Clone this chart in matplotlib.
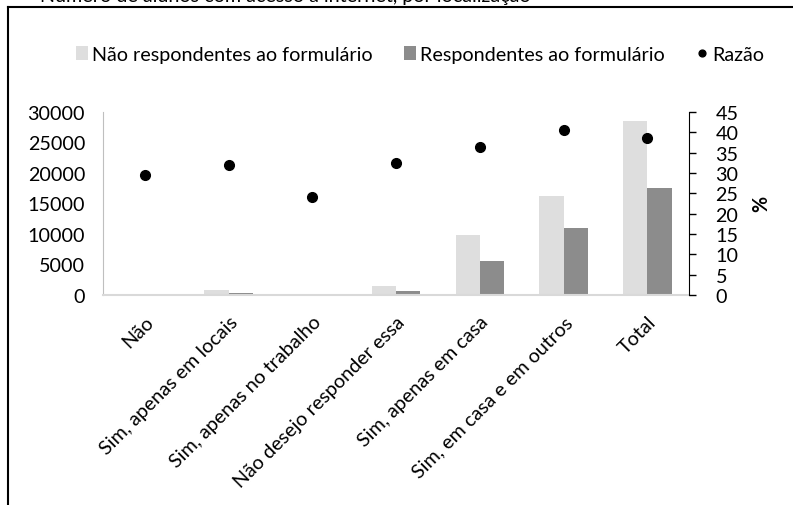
import numpy as np
import matplotlib.pyplot as plt
from matplotlib.lines import Line2D

plt.rcParams['font.family'] = ['Lato', 'DejaVu Sans']

categories = ['Não', 'Sim, apenas em locais', 'Sim, apenas no trabalho',
              'Não desejo responder essa', 'Sim, apenas em casa',
              'Sim, em casa e em outros', 'Total']
nao_resp = [30, 800, 30, 1400, 9900, 16200, 28500]     # não respondentes
resp = [15, 400, 15, 650, 5500, 10900, 17500]          # respondentes
razao = [29.6, 32.0, 24.1, 32.5, 36.4, 40.6, 38.5]    # %

left_ticks = [0, 5000, 10000, 15000, 20000, 25000, 30000]
right_ticks = [0, 5, 10, 15, 20, 25, 30, 35, 40, 45]

FS = 14.2

fig = plt.figure(figsize=(7.93, 5.06), dpi=100)
ax = fig.add_axes([0.130, 0.415, 0.739, 0.362])
ax2 = ax.twinx()

x = np.arange(len(categories))
w = 0.29
b1 = ax.bar(x - w / 2, nao_resp, w, color='#dedede', zorder=2)
b2 = ax.bar(x + w / 2, resp, w, color='#8c8c8c', zorder=2)
ax.set_xlim(-0.5, len(categories) - 0.5)
ax.set_ylim(0, 30000)
ax.set_yticks(left_ticks)
ax.set_yticklabels([str(t) for t in left_ticks], fontsize=FS)
ax.tick_params(axis='y', length=0, pad=13)
ax.set_xticks(x)
ax.set_xticklabels(categories, rotation=45, ha='right', rotation_mode='anchor',
                   fontsize=FS)
ax.tick_params(axis='x', length=0, pad=13)
for s in ['top', 'right']:
    ax.spines[s].set_visible(False)
ax.spines['left'].set_color('#bfbfbf')
ax.spines['bottom'].set_color('#d9d9d9')
ax.spines['bottom'].set_linewidth(1.5)

dots, = ax2.plot(x, razao, 'o', color='black', markersize=7, zorder=3)
ax2.set_ylim(0, 45)
ax2.set_yticks(right_ticks)
ax2.set_yticklabels([str(t) for t in right_ticks], fontsize=FS)
ax2.tick_params(axis='y', length=5, width=1, direction='out', pad=14)
for s in ['top', 'left', 'bottom']:
    ax2.spines[s].set_visible(False)
ax2.spines['right'].set_color('black')
ax2.set_ylabel('%', fontsize=FS, fontweight='bold', labelpad=9)

fig.legend([b1, b2, dots],
           ['Não respondentes ao formulário', 'Respondentes ao formulário', 'Razão'],
           loc='center', bbox_to_anchor=(0.530, 0.891), ncol=3, frameon=False,
           fontsize=FS, handlelength=0.6, handletextpad=0.2, columnspacing=1.6,
           markerscale=0.7)

# caption of the original figure, cut off at the top edge
fig.text(0.05, 0.997, 'Número de alunos com acesso à internet, por localização',
         fontsize=FS, va='baseline', ha='left')
fig.add_artist(Line2D([0.010, 0.010], [0.0, 0.984], color='black', lw=1.5))
fig.add_artist(Line2D([0.010, 1.0], [0.984, 0.984], color='black', lw=1.5))

fig.savefig('out.png', dpi=100)
